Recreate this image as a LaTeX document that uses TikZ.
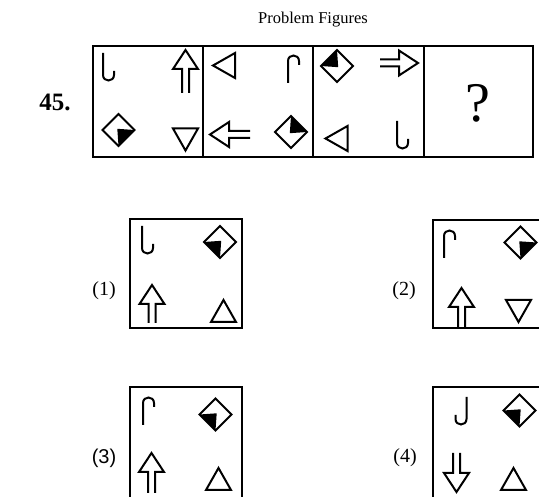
\documentclass[tikz,border=0pt]{standalone}
\usepackage{fontspec}
\setmainfont{Liberation Serif}
\newfontfamily\sansf{Liberation Sans}
\tikzset{
  boxl/.style={line width=2.4pt, line join=miter},
  sym/.style={line width=2pt, line join=miter},
  symhook/.pic={\draw[sym] (0,0) -- (0,22) .. controls (0,29.3) and (11,29.3) .. (11,22) -- (11,18);},
  symdia/.pic={\fill (-1.2,-1.2) -- (16,0) -- (0,16) -- cycle;
                \draw[sym] (16,0) -- (0,16) -- (-16,0) -- (0,-16) -- cycle;},
  symarr/.pic={\draw[sym] (-3.5,#1) -- (-3.5,19) -- (-12.5,19) -- (0,0) -- (12.5,19) -- (3.5,19) -- (3.5,#1);},
  symtri/.pic={\draw[sym] (0,-11) -- (12.5,11) -- (-12.5,11) -- cycle;},
  lab/.style={font=\fontsize{20}{22}\selectfont, inner sep=0pt},
}
\begin{document}
\begin{tikzpicture}[x=1pt, y=-1pt]
\useasboundingbox (0,0) rectangle (539,497);
\clip (0,0) rectangle (539,497);

% texts
\node[font=\fontsize{16.5}{18}\selectfont] (title) at (313,20) {Problem Figures};
\node[font=\bfseries\fontsize{25}{28}\selectfont] (num) at (55,102) {45.};
\node[font=\fontsize{56}{60}\selectfont] (qm) at (478,103) {?};
\node[lab] (l1) at (104,291) {(1)};
\node[lab] (l2) at (404,291) {(2)};
\node[lab, font=\sansf\fontsize{20}{22}\selectfont] (l3) at (104,458) {(3)};
\node[lab] (l4) at (405,458) {(4)};

% problem figure strip
\draw[boxl] (93,46) rectangle (533,157);
\draw[boxl] (203,46) -- (203,157);
\draw[boxl] (313,46) -- (313,157);
\draw[boxl] (424,46) -- (424,157);

% answer boxes
\draw[boxl] (130,219) rectangle (242,328);
\draw[boxl] (433,220) rectangle (549,328);
\draw[boxl] (130,387) rectangle (242,510);
\draw[boxl] (433,387) rectangle (549,510);

% cell 1
\pic at (103,53) {symhook};
\pic at (185.5,50) {symarr=43};
\pic at (118.5,130) {symdia};
\pic[rotate=180] at (185.5,139.5) {symtri};

% cell 2
\pic[rotate=90] at (224,65.5) {symtri};
\pic[yscale=-1] at (288,83) {symhook};
\pic[rotate=90] at (210,134.5) {symarr=40};
\pic[rotate=90] at (291,132) {symdia};

% cell 3
\pic[rotate=180] at (337,66) {symdia};
\pic[rotate=-90] at (418,63) {symarr=38};
\pic[rotate=90] at (336.5,138.5) {symtri};
\pic at (397,121) {symhook};

% answer 1
\pic at (142,226) {symhook};
\pic[rotate=270] at (220,242) {symdia};
\pic at (152,285) {symarr=38};
\pic at (223.5,311) {symtri};

% answer 2
\pic[yscale=-1] at (444,258) {symhook};
\pic at (520.5,242.5) {symdia};
\pic at (461.5,288) {symarr=39};
\pic[rotate=180] at (518.5,311) {symtri};

% answer 3
\pic[yscale=-1] at (143,425) {symhook};
\pic[rotate=270] at (215.5,414.5) {symdia};
\pic at (151.5,453) {symarr=40};
\pic at (218.5,479) {symtri};

% answer 4
\pic[xscale=-1] at (466.5,397) {symhook};
\pic[rotate=270] at (519.5,410.5) {symdia};
\pic[rotate=180] at (456.5,492) {symarr=39};
\pic at (513.5,479) {symtri};
\end{tikzpicture}
\end{document}
